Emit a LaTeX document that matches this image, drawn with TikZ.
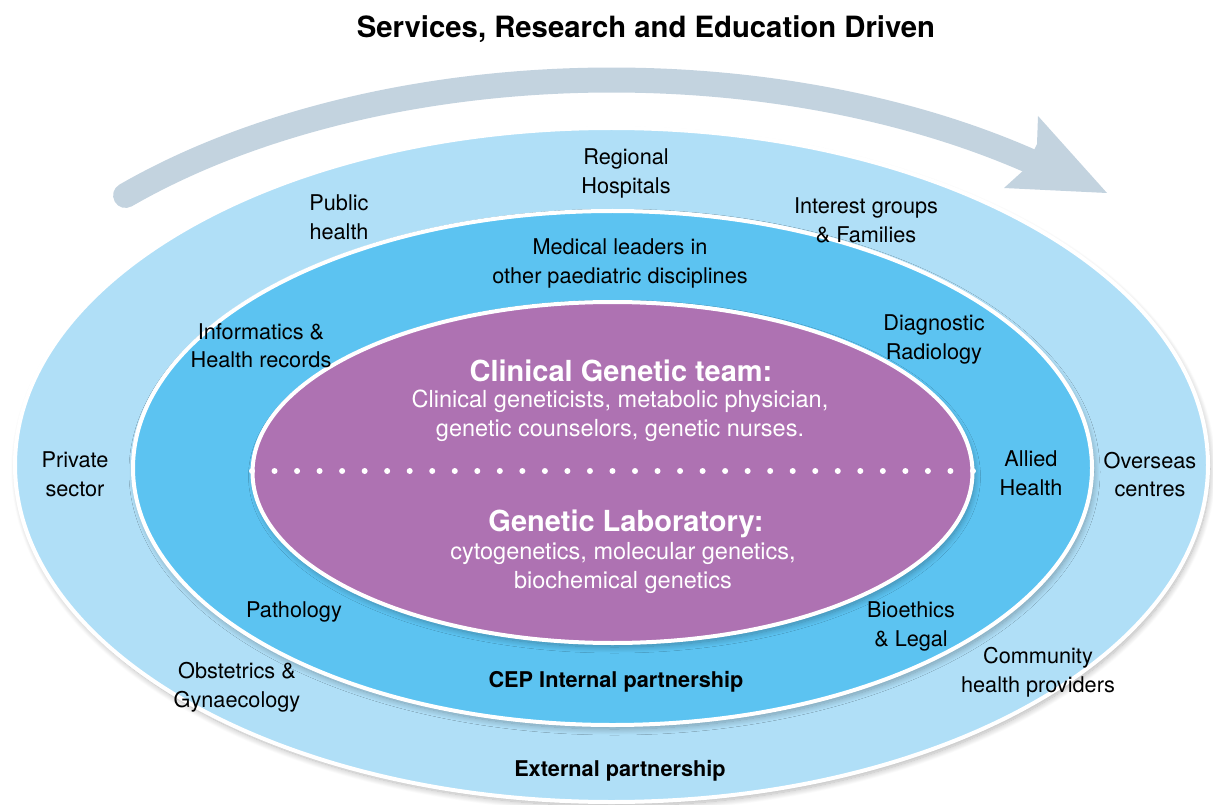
\documentclass[tikz,border=0pt]{standalone}
\usepackage{fontspec}
\setmainfont{TeX Gyre Heros}
\usetikzlibrary{shadows.blur}

\definecolor{ringout}{HTML}{B0DFF7}
\definecolor{ringmid}{HTML}{5CC3F1}
\definecolor{core}{HTML}{AE72B2}
\definecolor{flow}{HTML}{C3D3DF}

\tikzset{
  ring/.style={draw=white, line width=4pt,
    blur shadow={shadow xshift=2pt, shadow yshift=-4pt,
                 shadow blur radius=6pt, shadow blur steps=16,
                 shadow opacity=30}},
  lbl/.style={inner sep=0pt, align=center, text=black, yshift=-2.5pt,
    font=\fontsize{21.7}{28.5}\selectfont},
  lblb/.style={lbl, font=\fontsize{21.7}{28.5}\selectfont\bfseries},
  head/.style={inner sep=0pt, align=center, text=white, yshift=-2.5pt,
    font=\fontsize{29}{34}\selectfont\bfseries},
  sub/.style={inner sep=0pt, align=center, text=white, yshift=-2.5pt,
    font=\fontsize{23.5}{29}\selectfont},
}

\begin{document}
\begin{tikzpicture}[x=1pt, y=-1pt]
\useasboundingbox (0,0) rectangle (1213,805);

% curved flow arrow over the rings
\draw[flow, line width=25pt, line cap=round]
  plot[domain=135.5:51.5, samples=80, smooth]
  ({612+682*cos(\x)}, {466-386*sin(\x)});
\fill[flow] (1038,116) -- (1107,193) -- (1004,188) -- (1025,169)
  -- (1037,144) -- cycle;

% partnership rings
\path[ring, fill=ringout] (611.5,465) ellipse [x radius=596.5pt, y radius=337pt];
\path[ring, fill=ringmid] (612.5,468) ellipse [x radius=479.5pt, y radius=257pt];
\path[ring, fill=core]    (612.5,472.5) ellipse [x radius=360pt, y radius=170.5pt];

% dotted divider across the core
\foreach \i in {0,...,32}
  \fill[white] ({252+\i*22.53},471) circle (3pt);

% title
\node[lblb, font=\fontsize{29.3}{34}\selectfont\bfseries] (title) at (646,27)
  {Services, Research and Education Driven};

% outer ring labels
\node[lbl] (regional) at (626,171) {Regional\\Hospitals};
\node[lbl] (public) at (339,215) {Public\\health};
\node[lbl] (interest) at (866,218) {Interest groups\\\& Families};
\node[lbl] (private) at (75,472) {Private\\sector};
\node[lbl] (overseas) at (1150,472) {Overseas\\centres};
\node[lbl] (obstetrics) at (237,685) {Obstetrics \&\\Gynaecology};
\node[lbl] (community) at (1038,670) {Community\\health providers};
\node[lblb] (external) at (620,768) {External partnership};

% middle ring labels
\node[lbl] (medical) at (620,261) {Medical leaders in\\other paediatric disciplines};
\node[lbl] (informatics) at (261,343) {Informatics \&\\Health records};
\node[lbl] (radiology) at (934,337) {Diagnostic\\Radiology};
\node[lbl] (allied) at (1031,471) {Allied\\Health};
\node[lbl] (pathology) at (294,609) {Pathology};
\node[lbl] (bioethics) at (911,624) {Bioethics\\\& Legal};
\node[lblb] (internal) at (616,679) {CEP Internal partnership};

% core labels
\node[head] (clinical) at (621,368) {Clinical Genetic team:};
\node[sub] (clinicalsub) at (620,413)
  {Clinical geneticists, metabolic physician,\\genetic counselors, genetic nurses.};
\node[head] (lab) at (626,521) {Genetic Laboratory:};
\node[sub] (labsub) at (623,565)
  {cytogenetics, molecular genetics,\\biochemical genetics};
\end{tikzpicture}
\end{document}
